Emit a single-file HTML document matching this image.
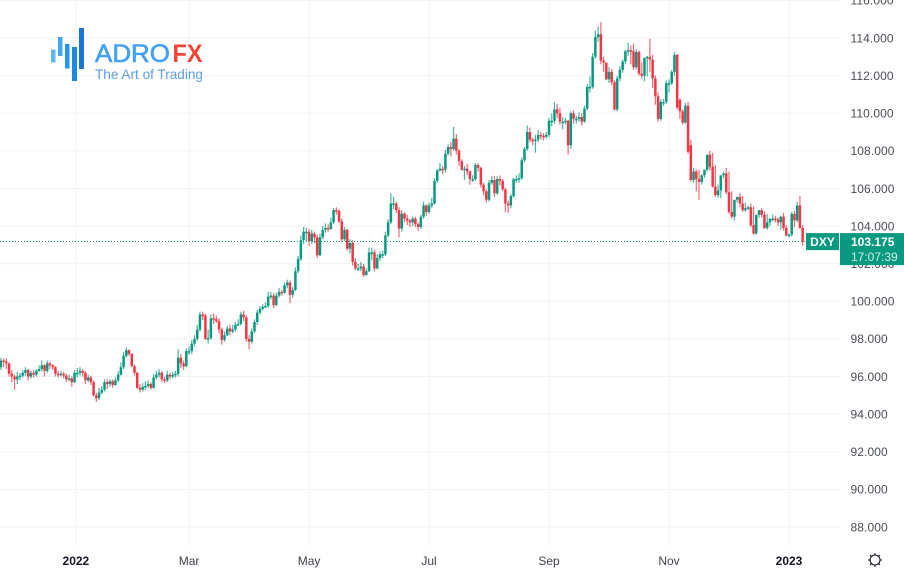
<!DOCTYPE html>
<html lang="en">
<head>
<meta charset="utf-8">
<title>DXY daily candlestick chart</title>
<style>
html,body{margin:0;padding:0;background:#fff;}
body{width:904px;height:572px;overflow:hidden;font-family:"Liberation Sans",sans-serif;}
svg{display:block;}
text{font-family:"Liberation Sans",sans-serif;}
</style>
</head>
<body>
<svg id="chart" width="904" height="572" viewBox="0 0 904 572" xmlns="http://www.w3.org/2000/svg">
  <g id="grid"></g>
  <g id="candles"></g>
  <g id="yaxis"></g>
  <g id="xaxis"></g>
  <g id="lastprice"></g>
  <g>
    <rect x="51" y="49.5" width="4.5" height="13" fill="#64b5f6"/>
    <rect x="58" y="37" width="4.5" height="19" fill="#42a5f5"/>
    <rect x="65" y="44" width="4.5" height="24.5" fill="#2196f3"/>
    <rect x="72" y="47" width="5" height="34" fill="#1e88e5"/>
    <rect x="79" y="28" width="5" height="41" fill="#1976d2"/>
    <text x="95" y="62" font-size="25" fill="#42a0f5" stroke="#42a0f5" stroke-width="0.6" textLength="75" lengthAdjust="spacingAndGlyphs">ADRO</text>
    <text x="172.5" y="62" font-size="25" font-weight="bold" fill="#f44336" textLength="30" lengthAdjust="spacingAndGlyphs">FX</text>
    <text x="95" y="79" font-size="14" fill="#5f9fe0" textLength="108" lengthAdjust="spacingAndGlyphs">The Art of Trading</text>
  </g>
  <g stroke="#131722" stroke-width="1.1" fill="none">
    <circle cx="875" cy="560" r="5"/>
    <path d="M875 553v2M875 565v2M868 560h2M880 560h2M870 555l1.4 1.4M878.6 563.6l1.4 1.4M870 565l1.4-1.4M878.6 556.4l1.4-1.4"/>
  </g>
</svg>
<script>
const closes = [
96.5,96.85,96.8,96.7,96.15,96.0,95.85,96.0,96.05,96.2,
96.35,96.0,96.2,96.1,96.3,96.4,96.6,96.3,96.7,96.6,
96.5,96.15,96.1,96.15,96.05,95.85,95.9,95.7,96.2,96.2,
96.3,96.2,95.8,95.95,95.7,95.0,94.85,95.15,95.3,95.7,
95.6,95.75,95.55,95.8,96.1,96.5,97.1,97.4,97.2,96.55,
96.2,95.4,95.3,95.45,95.5,95.6,95.4,95.95,96.1,96.2,
95.85,95.8,96.1,96.0,96.1,96.15,97.0,96.7,96.55,97.35,
97.35,97.75,98.0,98.5,99.3,99.25,98.0,98.05,99.1,99.05,
98.95,98.5,97.95,98.2,98.55,98.4,98.5,98.75,98.8,99.3,
99.15,98.0,97.85,98.4,98.9,99.4,99.6,99.7,99.75,100.25,
100.3,99.8,100.3,100.5,100.45,100.85,101.0,100.35,100.6,101.6,
102.25,103.25,103.7,103.7,103.2,103.6,103.4,102.45,103.4,103.8,
103.9,103.85,104.2,104.85,104.8,104.25,103.3,103.8,102.8,103.1,
102.1,101.75,101.75,101.85,101.4,101.6,102.6,102.6,101.75,102.3,
102.5,102.5,103.5,104.2,105.2,105.2,104.85,103.87,104.66,104.4,
104.3,104.2,104.4,104.1,103.95,104.5,105.1,104.75,105.1,105.2,
106.4,106.95,107.05,107.0,107.85,108.2,108.1,108.65,108.0,107.45,
107.0,107.05,106.9,106.5,106.5,107.25,107.1,106.2,105.85,105.4,
106.3,106.45,105.75,106.5,106.4,105.95,105.2,105.1,105.6,106.5,
106.5,106.55,107.5,108.1,109.0,108.6,108.55,108.6,108.85,108.8,
108.75,108.85,109.6,109.6,110.2,110.0,109.55,109.55,109.6,108.3,
110.0,109.7,109.7,109.8,109.55,110.25,111.4,111.4,113.0,114.05,
114.2,112.8,112.7,111.8,112.2,111.65,110.2,111.85,112.3,112.75,
113.3,113.35,113.3,112.45,113.25,112.1,112.0,112.95,113.0,112.85,
111.85,110.9,109.7,110.6,110.6,111.6,111.6,112.2,113.1,110.3,
110.1,109.5,110.4,107.95,106.45,106.9,106.5,106.35,106.7,107.0,
107.8,107.15,106.1,105.65,105.9,106.7,106.8,105.8,104.75,104.5,
105.4,105.55,105.2,104.85,104.95,105.0,104.05,103.6,104.6,104.85,
104.6,103.9,104.2,104.4,104.4,104.35,104.2,104.5,103.9,103.5,
103.55,104.65,104.3,105.1,103.9,103.175];
const opens = [
96.3,96.5,96.85,96.8,96.7,96.15,96.0,95.85,96.0,96.05,
96.2,96.35,96.0,96.2,96.1,96.3,96.4,96.6,96.3,96.7,
96.6,96.5,96.15,96.1,96.15,96.05,95.85,95.9,95.7,96.2,
96.2,96.3,96.2,95.8,95.95,95.7,95.0,94.85,95.15,95.3,
95.7,95.6,95.75,95.55,95.8,96.1,96.5,97.1,97.4,97.2,
96.55,96.2,95.4,95.3,95.45,95.5,95.6,95.4,95.95,96.1,
96.2,95.85,95.8,96.1,96.0,96.1,96.15,97.0,96.7,96.55,
97.35,97.35,97.75,98.0,98.5,99.3,99.25,98.0,98.05,99.1,
99.05,98.95,98.5,97.95,98.2,98.55,98.4,98.5,98.75,98.8,
99.3,99.15,98.0,97.85,98.4,98.9,99.4,99.6,99.7,99.75,
100.25,100.3,99.8,100.3,100.5,100.45,100.85,101.0,100.35,100.6,
101.6,102.25,103.25,103.7,103.7,103.2,103.6,103.4,102.45,103.4,
103.8,103.9,103.85,104.2,104.85,104.8,104.25,103.3,103.8,102.8,
103.1,102.1,101.75,101.75,101.85,101.4,101.6,102.6,102.6,101.75,
102.3,102.5,102.5,103.5,104.2,105.2,105.2,104.85,103.87,104.66,
104.4,104.3,104.2,104.4,104.1,103.95,104.5,105.1,104.75,105.1,
105.2,106.4,106.95,107.05,107.0,107.85,108.2,108.1,108.65,108.0,
107.45,107.0,107.05,106.9,106.5,106.5,107.25,107.1,106.2,105.85,
105.4,106.3,106.45,105.75,106.5,106.4,105.95,105.2,105.1,105.6,
106.5,106.5,106.55,107.5,108.1,109.0,108.6,108.55,108.6,108.85,
108.8,108.75,108.85,109.6,109.6,110.2,110.0,109.55,109.55,109.6,
108.3,110.0,109.7,109.7,109.8,109.55,110.25,111.4,111.4,113.0,
114.05,114.2,112.8,112.7,111.8,112.2,111.65,110.2,111.85,112.3,
112.75,113.3,113.35,113.3,112.45,113.25,112.1,112.0,112.95,113.0,
112.85,111.85,110.9,109.7,110.6,110.6,111.6,111.6,112.2,113.1,
110.7,110.1,109.5,110.4,108.3,106.45,106.9,106.5,106.35,106.7,
107.0,107.8,107.15,106.1,105.65,105.9,106.7,106.8,105.8,104.75,
104.5,105.4,105.55,105.2,104.85,104.95,105.0,104.05,103.6,104.6,
104.85,104.6,103.9,104.2,104.4,104.4,104.35,104.2,104.5,103.9,
103.5,103.55,104.65,104.3,105.1,103.9];
const highs = [
96.6,97.0,96.95,96.95,96.75,96.35,96.1,96.25,96.2,96.35,
96.5,96.4,96.3,96.35,96.4,96.6,96.85,96.65,96.85,96.8,
96.65,96.55,96.3,96.3,96.25,96.15,96.1,96.0,96.35,96.45,
96.5,96.4,96.3,96.1,96.05,95.8,95.15,95.4,95.5,95.85,
95.85,95.85,95.85,95.95,96.3,96.75,97.3,97.55,97.45,97.25,
96.65,96.25,95.6,95.65,95.75,95.8,95.7,96.15,96.3,96.4,
96.3,96.0,96.3,96.2,96.25,96.3,97.45,97.2,96.85,97.5,
97.6,97.95,98.2,98.75,99.45,99.45,99.35,98.5,99.3,99.35,
99.25,99.1,98.6,98.4,98.7,98.75,98.75,98.9,99.05,99.45,
99.5,99.25,98.2,98.55,99.05,99.55,99.75,99.85,99.95,100.5,
100.5,100.45,100.45,100.7,100.6,101.0,101.15,101.1,100.75,101.8,
102.4,103.5,103.95,103.9,103.85,103.8,103.7,103.55,103.6,104.0,
104.15,104.1,104.45,104.95,105.0,104.9,104.4,103.95,103.85,103.3,
103.25,102.3,102.0,102.1,102.0,101.75,102.85,102.85,102.75,102.5,
102.65,102.7,103.7,104.35,105.75,105.55,105.3,105.0,104.85,104.75,
104.6,104.4,104.5,104.5,104.2,104.6,105.3,105.15,105.25,105.5,
106.55,107.05,107.35,107.2,108.05,108.35,108.45,109.27,108.9,108.1,
107.55,107.2,107.3,106.95,106.7,107.35,107.35,107.15,106.3,105.95,
106.45,106.65,106.65,106.65,106.7,106.5,106.05,105.35,105.7,106.55,
106.7,106.8,107.65,108.2,109.35,109.25,108.7,108.85,109.1,109.0,
108.95,109.0,109.75,110.0,110.6,110.5,110.3,109.8,109.75,109.65,
110.1,110.15,109.85,110.05,110.0,110.4,111.55,111.95,113.2,114.4,
114.6,114.85,113.0,112.55,112.45,112.35,111.75,112.0,112.5,112.85,
113.35,113.75,113.6,113.7,113.4,113.35,112.7,112.2,113.05,113.95,
113.1,112.0,111.1,110.75,110.75,111.75,111.8,112.3,113.25,113.15,
110.8,110.2,110.55,110.6,108.6,107.1,107.0,107.0,106.75,106.95,
107.45,108.0,107.9,107.25,106.2,105.95,106.9,107.1,106.9,105.85,
104.85,105.5,105.75,105.6,105.25,105.1,105.2,105.05,104.1,104.7,
104.95,104.8,104.65,104.35,104.6,104.55,104.45,104.55,104.7,104.05,
103.6,104.75,104.8,105.3,105.6,104.05];
const lows = [
96.1,96.35,96.5,96.4,96.0,95.7,95.3,95.6,95.8,95.95,
96.05,95.8,95.9,95.95,96.0,96.25,96.25,96.0,96.2,96.4,
96.35,96.0,95.95,96.0,95.9,95.7,95.75,95.45,95.65,95.95,
96.05,96.0,95.6,95.7,95.55,94.95,94.65,94.75,95.05,95.2,
95.35,95.45,95.4,95.5,95.7,96.05,96.4,97.0,97.1,96.5,
96.05,95.35,95.15,95.2,95.3,95.4,95.3,95.35,95.85,95.95,
95.7,95.65,95.7,95.85,95.9,95.95,96.0,96.45,96.35,96.5,
97.15,97.2,97.6,97.9,98.4,99.0,97.95,97.75,97.95,98.8,
98.85,98.3,97.7,97.85,98.15,98.2,98.3,98.4,98.7,98.7,
98.95,97.85,97.45,97.75,98.3,98.75,99.3,99.5,99.65,99.65,
100.1,99.65,99.75,100.2,100.3,100.4,100.7,99.9,100.2,100.55,
101.5,102.15,103.05,103.2,102.95,103.05,103.1,102.3,102.4,103.3,
103.65,103.7,103.8,104.1,104.6,104.15,103.15,103.2,102.7,102.55,
101.9,101.65,101.6,101.6,101.3,101.35,101.55,102.2,101.6,101.7,
102.15,102.3,102.4,103.4,104.1,104.9,104.7,103.4,103.7,104.2,
104.05,103.95,104.0,103.95,103.75,103.85,104.4,104.55,104.65,104.95,
105.15,106.3,106.9,106.75,106.85,107.75,107.7,108.0,107.8,107.2,
106.95,106.45,106.7,106.2,106.35,106.4,106.9,106.05,105.65,105.25,
105.3,106.2,105.55,105.65,106.15,105.85,104.75,104.7,104.95,105.5,
106.3,106.3,106.45,107.4,108.0,108.45,108.3,107.9,108.45,108.6,
108.55,108.65,108.75,109.3,109.45,109.75,109.4,109.15,109.4,107.8,
108.1,109.45,109.45,109.55,109.35,109.5,110.15,111.1,111.3,112.9,
113.8,112.6,112.2,111.75,111.6,111.5,110.15,110.1,111.7,112.15,
112.6,113.05,112.6,112.3,112.35,112.0,111.85,111.7,111.95,112.2,
111.35,110.45,109.55,109.6,110.4,110.5,111.1,111.5,112.0,110.2,
109.7,109.4,109.45,107.85,106.35,106.3,105.85,105.4,106.2,106.55,
106.9,106.95,106.05,105.55,105.5,105.5,106.55,105.7,104.65,104.4,
104.3,105.25,105.0,104.75,104.75,104.85,103.95,103.55,103.55,104.45,
104.45,103.85,103.8,104.0,104.25,104.2,104.0,103.8,103.75,103.45,
103.4,103.45,103.95,104.2,103.85,102.95];
const yTickLabels = ["116.000","114.000","112.000","110.000","108.000","106.000","104.000","102.000","100.000","98.000","96.000","94.000","92.000","90.000","88.000"];
const yTickValues = [116,114,112,110,108,106,104,102,100,98,96,94,92,90,88];
const xTickLabels = ["2022","Mar","May","Jul","Sep","Nov","2023"];
const xTickBars = [28.5,70,114,158,202,246,290];
const xTickBold = [true,false,false,false,false,false,true];
const lastPrice = 103.175;
const symbolName = "DXY";
const countdown = "17:07:39";

const NS = "http://www.w3.org/2000/svg";
const UP = "#089981", DOWN = "#f23645", GRID = "#f2f2f3";
function xScale(i){ return 789 - (290 - i) * 2.727; }
function yScale(p){ return 38 + (114 - p) * 18.808; }
function make(tag, attrs, parent){
  const el = document.createElementNS(NS, tag);
  for (const k in attrs) el.setAttribute(k, attrs[k]);
  parent.appendChild(el);
  return el;
}
const gridG = document.getElementById("grid");
const candleG = document.getElementById("candles");
const yG = document.getElementById("yaxis");
const xG = document.getElementById("xaxis");
const lastG = document.getElementById("lastprice");

yTickValues.forEach(function(v, k){
  const line = make("line", {x1:0, x2:840, y1:yScale(v), y2:yScale(v), stroke:GRID, "stroke-width":1}, gridG);
  
  
  const t = make("text", {x:850.5, y:yScale(v)+4.3, "font-size":12, fill:"#4a4e57", "letter-spacing":"0.1"}, yG);
  
  
  t.textContent = yTickLabels[k];
});
xTickBars.forEach(function(b, k){
  const line = make("line", {x1:xScale(b), x2:xScale(b), y1:0, y2:546, stroke:GRID, "stroke-width":1}, gridG);
  
  
  const t = make("text", {x:xScale(b), y:565, "font-size":12, "text-anchor":"middle", fill:xTickBold[k] ? "#131722" : "#3f434c", "font-weight":xTickBold[k] ? "bold" : "normal"}, xG);
  
  
  t.textContent = xTickLabels[k];
});
closes.forEach(function(c, i){
  const o = opens[i], h = highs[i], l = lows[i];
  const col = c >= o ? UP : DOWN;
  const x = xScale(i);
  const g = make("g", {}, candleG);
  
  
  const wick = make("rect", {x:x-0.6, y:yScale(h), width:1.2, height:Math.max(0.5, yScale(l)-yScale(h)), fill:col, "fill-opacity":0.75}, g);
  
  
  const top = yScale(Math.max(o, c)), bot = yScale(Math.min(o, c));
  const body = make("rect", {x:x-1.25, y:top, width:2.5, height:Math.max(1.5, bot-top), fill:col}, g);
  
  
});
const ly = yScale(lastPrice);
const dotted = make("line", {x1:0, x2:806, y1:241.5, y2:241.5, stroke:UP, "stroke-width":1, "stroke-dasharray":"1 2"}, lastG);


const symBox = make("rect", {x:806, y:ly-8.5, width:33, height:17, fill:UP}, lastG);


const symText = make("text", {x:822.5, y:ly+4.3, "font-size":12, "text-anchor":"middle", fill:"#fff", "font-weight":"bold"}, lastG);


symText.textContent = symbolName;
const priceBox = make("rect", {x:840, y:ly-8.5, width:64, height:32, fill:UP}, lastG);


const priceText = make("text", {x:851, y:ly+4.3, "font-size":12, fill:"#fff", "font-weight":"bold"}, lastG);


priceText.textContent = lastPrice.toFixed(3);
const cdText = make("text", {x:851, y:ly+19.5, "font-size":12, fill:"#d5efe9"}, lastG);


cdText.textContent = countdown;
</script>
</body>
</html>
